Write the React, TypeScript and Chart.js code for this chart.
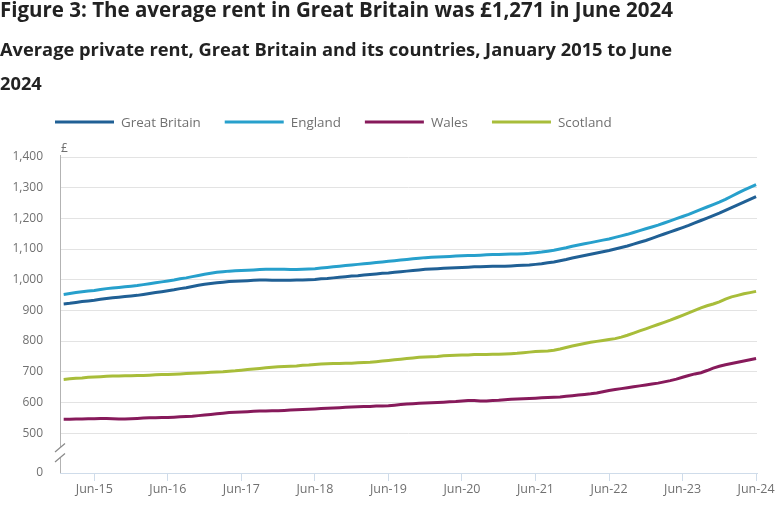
import React, { useEffect, useRef } from "react";
import { Chart, registerables } from "chart.js";
Chart.register(...registerables);

// ---- Data ----
const monthNames = ["Jan", "Feb", "Mar", "Apr", "May", "Jun", "Jul", "Aug", "Sep", "Oct", "Nov", "Dec"];
const yearLabels = ["15", "16", "17", "18", "19", "20", "21", "22", "23", "24"];
const categories: string[] = [];
yearLabels.forEach((yy) => monthNames.forEach((m) => categories.push(`${m}-${yy}`)));
const months = categories.slice(0, 114); // Jan-15 .. Jun-24

const seriesNames = ["Great Britain", "England", "Wales", "Scotland"];
const seriesColors = ["#206095", "#27A0CC", "#871A5B", "#A8BD3A"];

const greatBritain = [
  921, 923, 926, 929, 931, 933, 936, 939, 941, 943, 945, 947,
  949, 952, 955, 958, 961, 964, 967, 971, 974, 978, 982, 985,
  988, 990, 992, 994, 995, 996, 997, 998, 999, 999, 998, 998,
  998, 998, 999, 999, 1000, 1001, 1003, 1004, 1006, 1008, 1010, 1012,
  1013, 1015, 1017, 1019, 1021, 1022, 1024, 1026, 1028, 1030, 1032, 1034,
  1035, 1036, 1037, 1038, 1039, 1040, 1041, 1042, 1042, 1043, 1044, 1044,
  1044, 1045, 1046, 1047, 1048, 1050, 1052, 1055, 1058, 1062, 1066, 1071,
  1075, 1079, 1083, 1087, 1091, 1095, 1100, 1105, 1110, 1116, 1122, 1128,
  1135, 1142, 1149, 1156, 1163, 1170, 1177, 1185, 1193, 1201, 1209, 1217,
  1226, 1235, 1244, 1253, 1262, 1271,
];
const england = [
  952, 955, 958, 961, 963, 965, 968, 971, 973, 975, 977, 979,
  981, 984, 987, 990, 993, 996, 999, 1003, 1006, 1010, 1014, 1018,
  1021, 1024, 1026, 1028, 1029, 1030, 1031, 1032, 1033, 1034, 1034, 1034,
  1034, 1033, 1033, 1034, 1035, 1036, 1038, 1040, 1042, 1044, 1046, 1048,
  1050, 1052, 1054, 1056, 1058, 1060, 1062, 1064, 1066, 1068, 1070, 1072,
  1073, 1074, 1075, 1076, 1077, 1078, 1079, 1079, 1080, 1081, 1082, 1082,
  1083, 1084, 1084, 1085, 1086, 1088, 1090, 1093, 1096, 1100, 1104, 1109,
  1113, 1117, 1121, 1125, 1129, 1133, 1138, 1143, 1148, 1154, 1160, 1166,
  1172, 1178, 1185, 1192, 1199, 1206, 1213, 1221, 1229, 1237, 1245, 1253,
  1262, 1272, 1282, 1292, 1301, 1310,
];
const wales = [
  545, 545, 546, 546, 547, 547, 548, 548, 547, 546, 546, 547,
  548, 549, 550, 550, 551, 551, 552, 553, 554, 555, 557, 559,
  561, 563, 565, 567, 568, 569, 570, 571, 572, 572, 573, 573,
  574, 575, 576, 577, 578, 579, 580, 581, 582, 583, 584, 585,
  586, 587, 587, 588, 588, 589, 591, 593, 595, 596, 597, 598,
  599, 600, 601, 602, 603, 605, 606, 606, 605, 605, 606, 607,
  609, 610, 611, 612, 613, 614, 615, 616, 617, 618, 620, 622,
  624, 626, 628, 631, 635, 639, 642, 645, 648, 651, 654, 657,
  660, 663, 667, 671, 676, 682, 688, 693, 697, 704, 712, 718,
  723, 727, 731, 735, 739, 743,
];
const scotland = [
  675, 677, 679, 680, 682, 683, 684, 685, 686, 686, 687, 687,
  688, 688, 689, 690, 691, 691, 692, 693, 694, 695, 696, 697,
  698, 699, 700, 702, 703, 705, 707, 709, 711, 713, 715, 716,
  717, 718, 719, 721, 722, 724, 725, 726, 727, 727, 728, 728,
  729, 730, 731, 733, 735, 737, 739, 741, 743, 745, 747, 748,
  749, 750, 752, 753, 754, 755, 755, 756, 756, 756, 757, 757,
  758, 759, 760, 762, 764, 766, 767, 768, 770, 774, 779, 784,
  788, 792, 796, 799, 802, 805, 808, 813, 819, 826, 833, 840,
  847, 854, 861, 868, 876, 884, 892, 900, 908, 915, 921, 928,
  937, 944, 949, 954, 958, 962,
];
const seriesValues = [greatBritain, england, wales, scotland];

const xTickLabels = ["Jun-15", "Jun-16", "Jun-17", "Jun-18", "Jun-19", "Jun-20", "Jun-21", "Jun-22", "Jun-23", "Jun-24"];
const yTickValues = [0, 500, 600, 700, 800, 900, 1000, 1100, 1200, 1300, 1400];

// Broken axis: the "0" tick is drawn at this internal position, below 500
const ZERO_POS = 370;

const FONT = '"Open Sans", "Noto Sans", sans-serif';
const GREY = "#707070";

const decorPlugin = {
  id: "decor",
  afterDraw(chart: any) {
    const { ctx, chartArea, scales } = chart;
    const y = scales.y;
    const left = chartArea.left;
    const p500 = y.getPixelForValue(500);
    const p0 = y.getPixelForValue(ZERO_POS);
    const mid = (p500 + p0) / 2;
    ctx.save();
    // y-axis line with break
    ctx.strokeStyle = "#b3b3b3";
    ctx.lineWidth = 1;
    ctx.beginPath();
    ctx.moveTo(left + 0.5, chartArea.top - 2);
    ctx.lineTo(left + 0.5, mid - 6);
    ctx.moveTo(left + 0.5, mid + 5);
    ctx.lineTo(left + 0.5, chartArea.bottom);
    ctx.stroke();
    ctx.strokeStyle = "#8a8a8a";
    ctx.lineWidth = 1.2;
    ctx.beginPath();
    ctx.moveTo(left - 5, mid - 1);
    ctx.lineTo(left + 5, mid - 9.5);
    ctx.moveTo(left - 5, mid + 9);
    ctx.lineTo(left + 5, mid + 0.5);
    ctx.stroke();
    // unit label
    ctx.fillStyle = GREY;
    ctx.font = `12px ${FONT}`;
    ctx.textAlign = "left";
    ctx.textBaseline = "alphabetic";
    ctx.fillText("£", left + 1, chartArea.top - 5);
    // legend
    ctx.font = `13.4px ${FONT}`;
    ctx.textBaseline = "middle";
    let lx = 55;
    const ly = 122;
    seriesNames.forEach((name, i) => {
      ctx.strokeStyle = seriesColors[i];
      ctx.lineWidth = 3;
      ctx.beginPath();
      ctx.moveTo(lx, ly);
      ctx.lineTo(lx + 59, ly);
      ctx.stroke();
      ctx.fillStyle = GREY;
      ctx.fillText(name, lx + 66, ly + 1);
      lx += 66 + ctx.measureText(name).width + 24;
    });
    ctx.restore();
  },
};

export default function App() {
  const ref = useRef<HTMLCanvasElement | null>(null);
  useEffect(() => {
    if (!ref.current) return;
    const chart = new Chart(ref.current, {
      type: "line",
      data: {
        datasets: seriesNames.map((name, s) => ({
          label: name,
          data: seriesValues[s].map((v, i) => ({ x: i, y: v })),
          borderColor: seriesColors[s],
          backgroundColor: seriesColors[s],
          borderWidth: 3,
          pointRadius: 0,
          tension: 0,
        })),
      },
      options: {
        responsive: false,
        animation: false,
        layout: { padding: { left: 0, right: 26, top: 157, bottom: 0 } },
        plugins: {
          legend: { display: false },
          title: { display: false },
          tooltip: { enabled: false },
        },
        scales: {
          x: {
            type: "linear",
            min: -0.6,
            max: 113.15,
            afterBuildTicks: (scale: any) => {
              scale.ticks = xTickLabels.map((_, k) => ({ value: 5 + 12 * k }));
            },
            afterFit: (scale: any) => {
              scale.height = 47;
            },
            ticks: {
              autoSkip: false,
              maxRotation: 0,
              color: GREY,
              font: { family: FONT, size: 12.5 },
              padding: 1,
              callback: (v: any) => xTickLabels[Math.round((Number(v) - 5) / 12)] ?? "",
            },
            grid: {
              drawOnChartArea: false,
              drawTicks: true,
              tickLength: 8,
              color: "#cfdcea",
            },
            border: { display: true, color: "#cfdcea", width: 1 },
          },
          y: {
            type: "linear",
            min: ZERO_POS,
            max: 1400,
            afterBuildTicks: (scale: any) => {
              scale.ticks = yTickValues.map((v) => ({ value: v === 0 ? ZERO_POS : v }));
            },
            afterFit: (scale: any) => {
              scale.width = 60;
            },
            ticks: {
              color: GREY,
              font: { family: FONT, size: 12 },
              padding: 17,
              callback: (v: any) => (Number(v) === ZERO_POS ? "0" : Number(v).toLocaleString("en-GB")),
            },
            grid: {
              drawTicks: false,
              color: (c: any) => (c.tick && c.tick.value === ZERO_POS ? "rgba(0,0,0,0)" : "#e3e3e3"),
              lineWidth: 1,
            },
            border: { display: false },
          },
        },
      },
      plugins: [decorPlugin],
    } as any);
    return () => chart.destroy();
  }, []);

  return (
    <div style={{ position: "fixed", left: 0, top: 0, width: 783, height: 520, background: "#fff", overflow: "hidden" }}>
      <canvas ref={ref} width={783} height={520} style={{ position: "absolute", left: 0, top: 0, width: 783, height: 520 }} />
      <div
        style={{
          position: "absolute",
          left: 0,
          top: -4,
          fontFamily: FONT,
          fontWeight: 700,
          fontSize: 20.5,
          lineHeight: "26px",
          color: "#222222",
          whiteSpace: "nowrap",
        }}
      >
        Figure 3: The average rent in Great Britain was £1,271 in June 2024
      </div>
      <div
        style={{
          position: "absolute",
          left: 0,
          top: 32,
          fontFamily: FONT,
          fontWeight: 700,
          fontSize: 18.3,
          lineHeight: "34px",
          color: "#222222",
          whiteSpace: "nowrap",
        }}
      >
        Average private rent, Great Britain and its countries, January 2015 to June
        <br />
        2024
      </div>
    </div>
  );
}
